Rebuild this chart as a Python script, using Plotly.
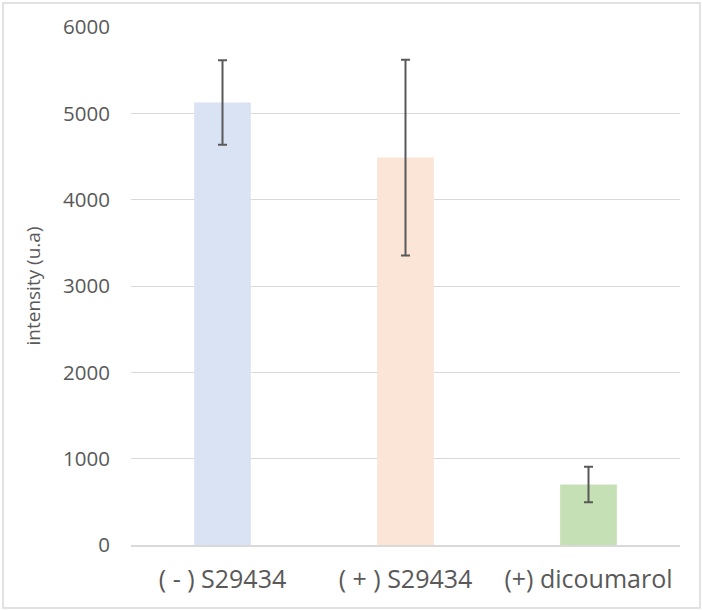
import plotly.graph_objects as go

categories = ["( - ) S29434", "( + ) S29434", "(+) dicoumarol"]
values = [5125, 4487, 700]
errors = [490, 1135, 205]
bar_colors = ["#dae3f3", "#fbe5d6", "#c5e0b4"]
y_ticks = [0, 1000, 2000, 3000, 4000, 5000, 6000]

W, H = 702, 610
L, R, T, B = 131, 22, 27, 65
pw, ph = W - L - R, H - T - B

fig = go.Figure(go.Bar(
    x=categories, y=values,
    marker=dict(color=bar_colors, line=dict(width=0)),
    error_y=dict(type="data", array=errors, visible=True,
                 color="#595959", thickness=2, width=4.5),
    width=0.31,
))

fig.update_layout(
    width=W, height=H,
    margin=dict(l=L, r=R, t=T, b=B),
    plot_bgcolor="white", paper_bgcolor="white",
    font=dict(family="Open Sans, sans-serif", color="#595959"),
    showlegend=False,
    xaxis=dict(showline=True, linecolor="#d9d9d9", linewidth=1.5,
               showgrid=False, tickfont=dict(size=25, color="#595959"),
               ticklabelstandoff=11),
    yaxis=dict(range=[0, 6000], tickvals=y_ticks, showgrid=True,
               gridcolor="#d9d9d9", gridwidth=1.2, zeroline=False,
               showline=False, tickfont=dict(size=20.5, color="#595959"),
               ticklabelstandoff=20,
               title=dict(text="intensity (u.a)", font=dict(size=19, color="#595959"),
                          standoff=17)),
    shapes=[dict(type="rect", xref="paper", yref="paper",
                 x0=(3 - L) / pw, x1=(700 - L) / pw,
                 y0=(H - B - 608) / ph, y1=(H - B - 3) / ph,
                 line=dict(color="#d9d9d9", width=1.5), layer="below")],
)

fig.write_html("out.html", config={"displayModeBar": False},
               post_script="document.body.style.margin='0';")
